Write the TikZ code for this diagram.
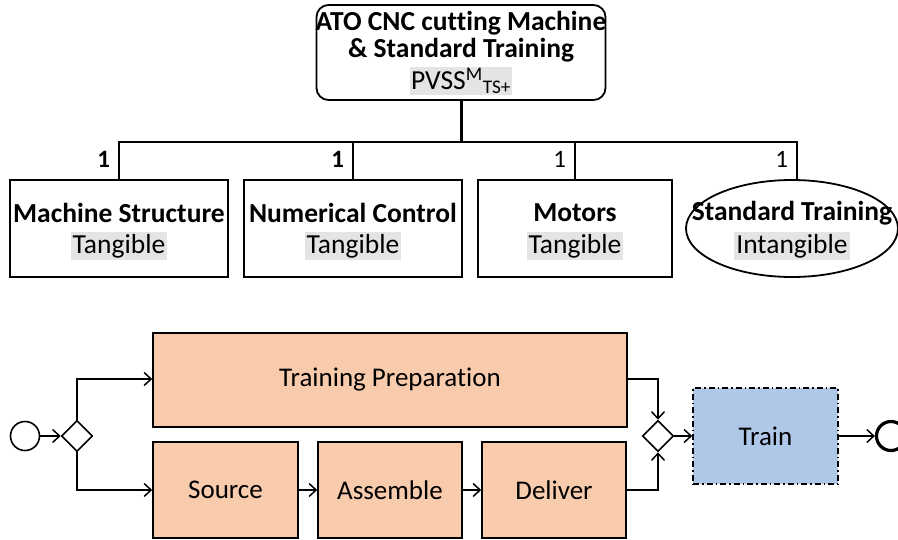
\documentclass[tikz,border=0pt]{standalone}
\usepackage{fontspec}
\setmainfont{Carlito}[Ligatures=NoCommon]
\usetikzlibrary{arrows.meta,shapes.geometric}
\definecolor{peach}{HTML}{F8CBAD}
\definecolor{lblue}{HTML}{AFC8E8}
\definecolor{hl}{HTML}{E4E4E4}
\begin{document}
\begin{tikzpicture}[x=1pt,y=-1pt,
  line width=1.8pt,
  prod/.style={draw, minimum width=218pt, minimum height=97pt, inner sep=0pt},
  ttl/.style={font=\bfseries\fontsize{27.5}{30}\selectfont, inner sep=0pt},
  tag/.style={fill=hl, font=\fontsize{27.5}{30}\selectfont, inner sep=2pt},
  one/.style={font=\fontsize{25}{28}\selectfont, anchor=east, inner sep=0pt},
  act/.style={draw, fill=peach, line width=1.6pt, inner sep=0pt, font=\fontsize{27}{30}\selectfont},
  gw/.style={draw, diamond, minimum width=31pt, minimum height=31pt, inner sep=0pt, line width=1.6pt},
  flow/.style={line width=1.5pt, -{Straight Barb[length=7pt,width=13pt,line width=1.5pt]}},
]
\useasboundingbox (0,0) rectangle (898,539);
% top product
\node[draw, rounded corners=12pt, minimum width=289pt, minimum height=95pt, inner sep=0pt] (top) at (461,52.5) {};
\node[ttl] (t1) at (461,23) {ATO CNC cutting Machine};
\node[ttl] (t2) at (461,50) {\& Standard Training};
\node[tag, inner sep=1.5pt] (t3) at (461,81) {PVSS\textsuperscript{M}\textsubscript{TS+}};
% children
\node[prod] (ms) at (119,228.5) {};
\node[prod] (nc) at (353,228.5) {};
\node[draw, minimum width=194pt, minimum height=97pt, inner sep=0pt] (mo) at (575,228.5) {};
\node[draw, ellipse, minimum width=212pt, minimum height=97pt, inner sep=0pt] (st) at (792,228.5) {};
\foreach \n/\x/\a/\b in {ms/119/Machine Structure/Tangible, nc/353/Numerical Control/Tangible, mo/575/Motors/Tangible, st/792/Standard Training/Intangible}{
  \node[ttl] (\n-a) at (\x,213) {\a};
  \node[tag] (\n-b) at (\x,246) {\b};
}
% tree connectors
\coordinate (bar) at (461,142);
\draw[line width=3pt] (top.south) -- (bar);
\draw (ms.north) -- (119,142) -- (797,142) -- (st.north -| 797,0);
\draw (nc.north) -- (353,142);
\draw (mo.north) -- (575,142);
\node[one, font=\bfseries\fontsize{25}{28}\selectfont] (o1) at (111,159) {1};
\node[one, font=\bfseries\fontsize{25}{28}\selectfont] (o2) at (345,159) {1};
\node[one] (o3) at (567,159) {1};
\node[one] (o4) at (789,159) {1};
% process
\node[draw, circle, minimum size=29pt, inner sep=0pt, line width=1.6pt] (start) at (25,436) {};
\node[gw] (g1) at (77,436) {};
\node[act, minimum width=474pt, minimum height=94pt] (tp) at (390,380) {Training Preparation};
\node[act, minimum width=145pt, minimum height=96pt] (src) at (225.5,490) {Source};
\node[act, minimum width=144pt, minimum height=96pt] (asm) at (390,490) {Assemble};
\node[act, minimum width=144pt, minimum height=96pt] (del) at (554,490) {Deliver};
\node[gw] (g2) at (658,436) {};
\node[draw, fill=lblue, dash pattern=on 6pt off 3pt on 1.5pt off 3pt, line width=1.6pt, minimum width=145pt, minimum height=96pt, inner sep=0pt, font=\fontsize{27}{30}\selectfont] (tr) at (765.5,436) {Train};
\node[draw, circle, minimum size=29pt, inner sep=0pt, line width=3.2pt] (end) at (891,436) {};
\draw[flow] (start) -- (g1);
\draw[flow] (g1.north) |- (tp.west |- 0,379);
\draw[flow] (g1.south) |- (src.west);
\draw[flow] (src) -- (asm);
\draw[flow] (asm) -- (del);
\draw[flow] (tp.east |- 0,379) -| (g2.north);
\draw[flow] (del.east) -| (g2.south);
\draw[flow] (g2) -- (tr);
\draw[flow] (tr) -- (end);
\end{tikzpicture}
\end{document}
